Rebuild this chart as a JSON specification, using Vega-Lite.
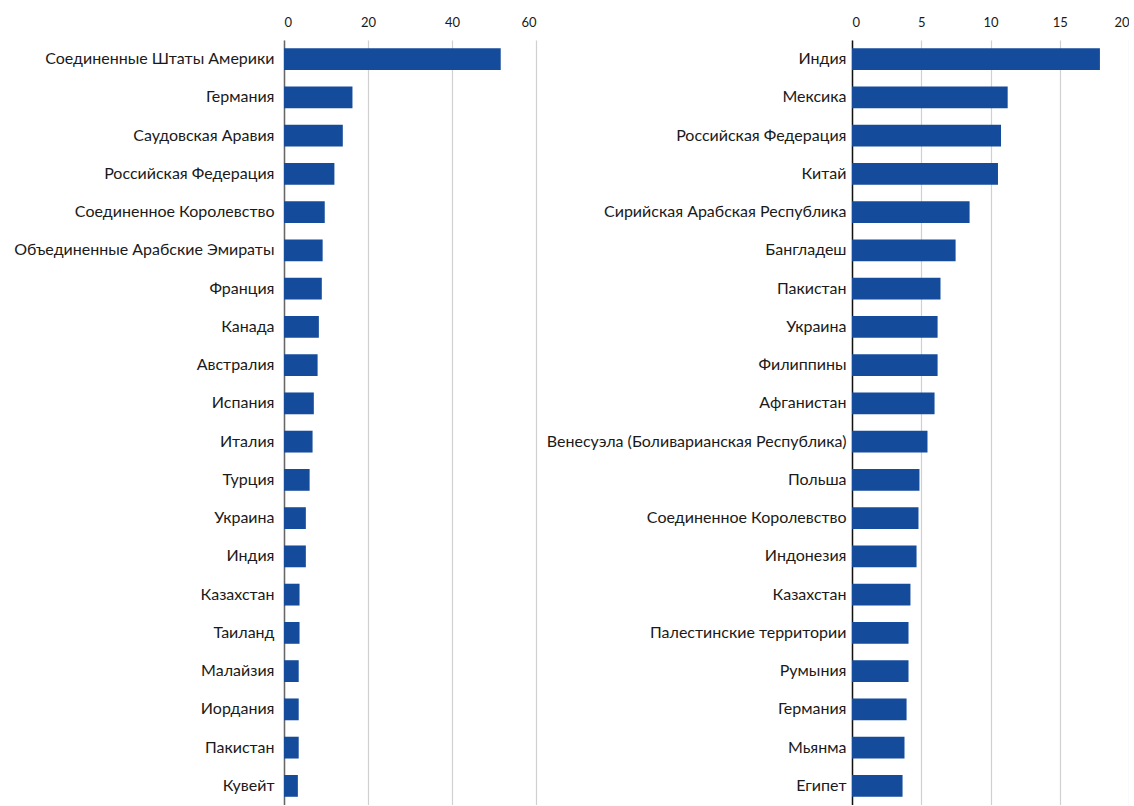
{
  "$schema": "https://vega.github.io/schema/vega-lite/v6.json",
  "padding": {"left": 8, "top": 0, "right": 0, "bottom": 0},
  "background": "white",
  "spacing": 9,
  "config": {
    "view": {"stroke": null},
    "font": "Lato",
    "axis": {"labelFont": "Lato", "labelColor": "#1a1a1a", "title": null}
  },
  "datasets": {
    "left": [
      {"rank": 1, "country": "Соединенные Штаты Америки", "value": 51.6},
      {"rank": 2, "country": "Германия", "value": 16.3},
      {"rank": 3, "country": "Саудовская Аравия", "value": 14.0},
      {"rank": 4, "country": "Российская Федерация", "value": 12.0},
      {"rank": 5, "country": "Соединенное Королевство", "value": 9.7},
      {"rank": 6, "country": "Объединенные Арабские Эмираты", "value": 9.2},
      {"rank": 7, "country": "Франция", "value": 9.0},
      {"rank": 8, "country": "Канада", "value": 8.3},
      {"rank": 9, "country": "Австралия", "value": 8.0},
      {"rank": 10, "country": "Испания", "value": 7.1},
      {"rank": 11, "country": "Италия", "value": 6.8},
      {"rank": 12, "country": "Турция", "value": 6.1},
      {"rank": 13, "country": "Украина", "value": 5.2},
      {"rank": 14, "country": "Индия", "value": 5.2},
      {"rank": 15, "country": "Казахстан", "value": 3.7},
      {"rank": 16, "country": "Таиланд", "value": 3.7},
      {"rank": 17, "country": "Малайзия", "value": 3.5},
      {"rank": 18, "country": "Иордания", "value": 3.5},
      {"rank": 19, "country": "Пакистан", "value": 3.5},
      {"rank": 20, "country": "Кувейт", "value": 3.3}
    ],
    "right": [
      {"rank": 1, "country": "Индия", "value": 17.9},
      {"rank": 2, "country": "Мексика", "value": 11.24},
      {"rank": 3, "country": "Российская Федерация", "value": 10.76},
      {"rank": 4, "country": "Китай", "value": 10.54},
      {"rank": 5, "country": "Сирийская Арабская Республика", "value": 8.49},
      {"rank": 6, "country": "Бангладеш", "value": 7.48},
      {"rank": 7, "country": "Пакистан", "value": 6.39},
      {"rank": 8, "country": "Украина", "value": 6.18},
      {"rank": 9, "country": "Филиппины", "value": 6.18},
      {"rank": 10, "country": "Афганистан", "value": 5.96},
      {"rank": 11, "country": "Венесуэла (Боливарианская Республика)", "value": 5.45},
      {"rank": 12, "country": "Польша", "value": 4.87},
      {"rank": 13, "country": "Соединенное Королевство", "value": 4.8},
      {"rank": 14, "country": "Индонезия", "value": 4.66},
      {"rank": 15, "country": "Казахстан", "value": 4.22},
      {"rank": 16, "country": "Палестинские территории", "value": 4.08},
      {"rank": 17, "country": "Румыния", "value": 4.08},
      {"rank": 18, "country": "Германия", "value": 3.94},
      {"rank": 19, "country": "Мьянма", "value": 3.79},
      {"rank": 20, "country": "Египет", "value": 3.65}
    ]
  },
  "hconcat": [
    {
      "data": {"name": "left"},
      "width": 252,
      "height": 765,
      "mark": {"type": "bar", "color": "#144b9b"},
      "encoding": {
        "y": {
          "field": "country",
          "type": "nominal",
          "sort": {"field": "rank", "op": "min", "order": "ascending"},
          "scale": {"paddingInner": 0.43, "paddingOuter": 0.215},
          "axis": {
            "ticks": false, "tickSize": 0, "labelFontSize": 16, "labelPadding": 10,
            "labelLimit": 400, "minExtent": 276, "maxExtent": 276,
            "domainColor": "#666666", "domainWidth": 1.5, "grid": false
          }
        },
        "x": {
          "field": "value",
          "type": "quantitative",
          "scale": {"domain": [0, 60], "nice": false},
          "axis": {
            "orient": "top", "values": [0, 20, 40, 60], "ticks": false, "tickSize": 0,
            "domain": false, "labelFontSize": 13, "labelPadding": 11,
            "minExtent": 40, "maxExtent": 40,
            "grid": true, "gridColor": "#d0d0d0", "gridWidth": 1.2
          }
        }
      }
    },
    {
      "data": {"name": "right"},
      "width": 277,
      "height": 765,
      "mark": {"type": "bar", "color": "#144b9b"},
      "encoding": {
        "y": {
          "field": "country",
          "type": "nominal",
          "sort": {"field": "rank", "op": "min", "order": "ascending"},
          "scale": {"paddingInner": 0.43, "paddingOuter": 0.215},
          "axis": {
            "ticks": false, "tickSize": 0, "labelFontSize": 16, "labelPadding": 6,
            "labelLimit": 400, "minExtent": 307, "maxExtent": 307,
            "domainColor": "#111111", "domainWidth": 1.5, "grid": false
          }
        },
        "x": {
          "field": "value",
          "type": "quantitative",
          "scale": {"domain": [0, 20], "nice": false},
          "axis": {
            "orient": "top", "values": [0, 5, 10, 15, 20], "ticks": false, "tickSize": 0,
            "domain": false, "labelFontSize": 13, "labelPadding": 11,
            "minExtent": 40, "maxExtent": 40,
            "grid": true, "gridColor": "#d0d0d0", "gridWidth": 1.2
          }
        }
      }
    }
  ]
}
